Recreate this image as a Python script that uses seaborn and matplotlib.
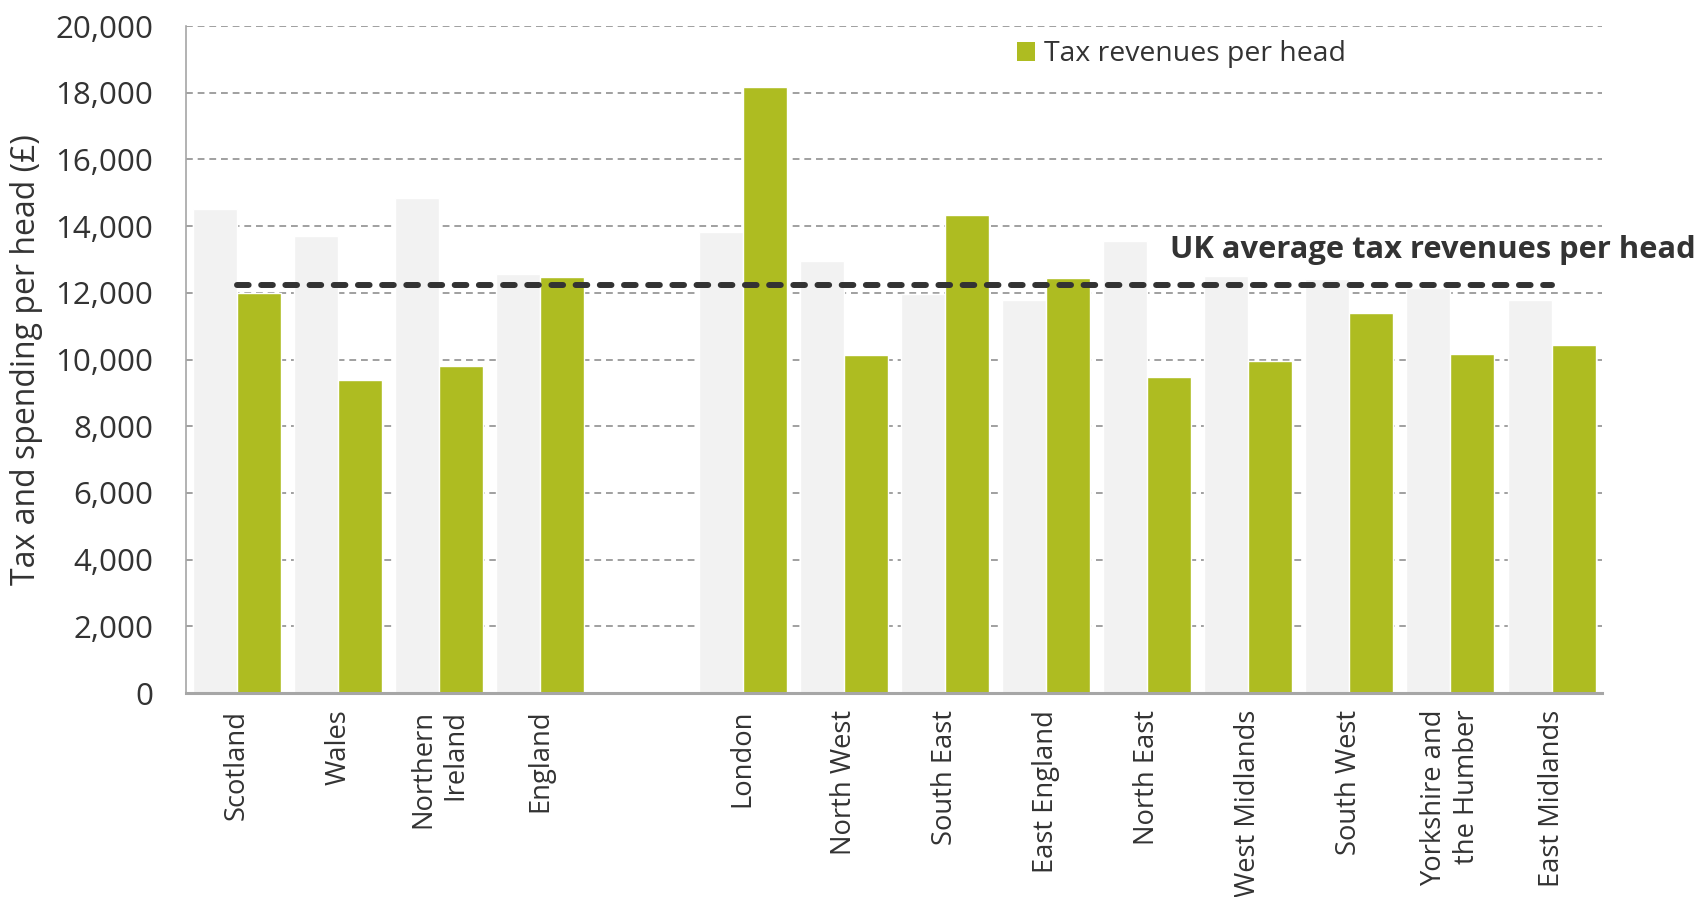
import pandas as pd
import matplotlib
matplotlib.use("Agg")
import matplotlib.pyplot as plt
from matplotlib.patches import Patch
import seaborn as sns

# Per-head figures (£) for the UK nations and the English regions
nations = ["Scotland", "Wales", "Northern\nIreland", "England"]
regions = ["London", "North West", "South East", "East England", "North East",
           "West Midlands", "South West", "Yorkshire and\nthe Humber", "East Midlands"]
spending_nations = [14500, 13700, 14830, 12550]
tax_nations = [12000, 9400, 9820, 12480]
spending_regions = [13830, 12950, 11970, 11770, 13560, 12500, 12400, 12140, 11770]
tax_regions = [18170, 10150, 14340, 12430, 9490, 9960, 11400, 10180, 10450]
uk_avg_tax = 12220

series_names = ["Spending per head", "Tax revenues per head"]
GREY = "#F2F2F2"
GREEN = "#AEBC21"
TEXT = "#333333"

areas = nations + regions
spending = spending_nations + spending_regions
tax = tax_nations + tax_regions
df = pd.DataFrame({
    "area": areas * 2,
    "series": [series_names[0]] * len(areas) + [series_names[1]] * len(areas),
    "value": spending + tax,
})
# blank slot separates the nations from the English regions
order = nations + [" "] + regions

sns.set_theme(style="white")
plt.rcParams["font.family"] = ["Open Sans", "DejaVu Sans"]

fig = plt.figure(figsize=(17, 8.97), dpi=100)
ax = fig.add_axes([0.1097, 0.2274, 0.8327, 0.7436])

sns.barplot(data=df, x="area", y="value", hue="series", order=order,
            hue_order=series_names, palette=[GREY, GREEN], width=0.87, gap=0,
            saturation=1, errorbar=None, legend=False, ax=ax, zorder=2)

# UK average tax line across the category centres
ax.plot([0, len(order) - 1], [uk_avg_tax, uk_avg_tax], color="#333333",
        linewidth=4.3, linestyle=(0, (1.95, 2.1)), dash_capstyle="round",
        zorder=4)
ax.text(9.23, 13290, "UK average tax revenues per head", ha="left",
        va="center", fontsize=22.2, fontweight="bold", color=TEXT,
        clip_on=False, zorder=5)

ax.set_ylim(0, 20000)
ax.set_xlim(-0.5, len(order) - 0.5)
ax.set_yticks(range(0, 20001, 2000))
ax.set_yticklabels([f"{v:,}" for v in range(0, 20001, 2000)])
ax.yaxis.grid(True, color="#A0A0A0", linestyle=(0, (3.5, 2.5)), linewidth=1.4)
ax.xaxis.grid(False)
ax.set_axisbelow(True)

ax.tick_params(axis="y", length=0, pad=24, labelsize=22.5, labelcolor=TEXT)
ax.tick_params(axis="x", length=0, pad=12, labelsize=19.7, labelcolor=TEXT)
for lbl in ax.get_xticklabels():
    lbl.set_rotation(90)
    lbl.set_va("top")
    lbl.set_ha("center")
    lbl.set_multialignment("right")

ax.set_xlabel("")
ax.set_ylabel("Tax and spending per head (£)", fontsize=23, color=TEXT,
              labelpad=9)

for side in ("top", "right"):
    ax.spines[side].set_visible(False)
ax.spines["left"].set_color("#A6A6A6")
ax.spines["left"].set_linewidth(1.2)
ax.spines["bottom"].set_color("#A6A6A6")
ax.spines["bottom"].set_linewidth(2.2)

handle = Patch(facecolor=GREEN, edgecolor="none", label=series_names[1])
fig.legend(handles=[handle], loc="center left",
           bbox_to_anchor=(1017 / 1700, 1 - 54 / 897), frameon=False,
           fontsize=20.4, handlelength=0.65, handleheight=0.65,
           handletextpad=0.3, borderpad=0, borderaxespad=0,
           labelcolor=TEXT)

fig.savefig("out.png", dpi=100, facecolor="white")
